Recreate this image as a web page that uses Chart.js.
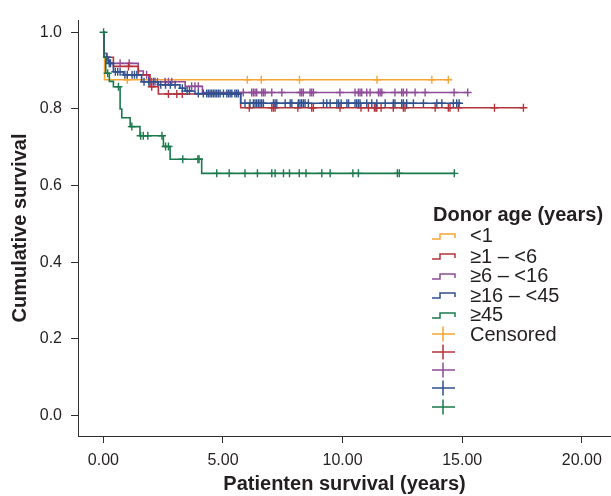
<!DOCTYPE html>
<html>
<head>
<meta charset="utf-8">
<script src="https://cdn.jsdelivr.net/npm/chart.js@4.4.0/dist/chart.umd.min.js"></script>
<style>
    html, body { margin: 0; padding: 0; background: #fff; }
    #wrap { position: relative; width: 611px; height: 496px; }
    #legend { position: absolute; left: 0; top: 0; width: 611px; height: 496px; pointer-events: none;
              font-family: 'Liberation Sans', Arial, sans-serif; color: #231f20; }
    #legend .title { position: absolute; left: 433px; font-size: 20px; font-weight: bold; line-height: 23px; white-space: nowrap; }
    #legend .txt { position: absolute; left: 470px; font-size: 20px; line-height: 23px; white-space: nowrap; }
    #legend svg { position: absolute; left: 430px; }
</style>
</head>
<body>
<div id="wrap">
    <canvas id="kmChart" width="611" height="496"></canvas>
    <div id="legend"></div>
</div>
<script>
// Axis ticks
const xTicks = [0, 5, 10, 15, 20];
const yTicks = [0, 0.2, 0.4, 0.6, 0.8, 1.0];

// Donor age groups
const groupLabels = ['<1', '≥1 – <6', '≥6 – <16', '≥16 – <45', '≥45'];

// <1 year: step times (years) and survival from that time on
const ageLt1Time = [0, 0.02, 0.05, 14.45];
const ageLt1Surv = [1.0, 0.938, 0.876, 0.876];
const ageLt1Censored = [1.0, 6.02, 6.6, 8.2, 11.44, 13.73, 14.42];

// >=1 - <6
const age1to6Time = [0, 0.03, 0.42, 1.46, 1.95, 2.3, 5.74, 17.56];
const age1to6Surv = [1.0, 0.935, 0.911, 0.889, 0.858, 0.839, 0.803, 0.803];
const age1to6Censored = [1.05, 2.02, 2.72, 3.07, 3.30, 6.10, 7.04, 7.11, 7.18, 8.13, 8.71, 8.78, 9.89,
    10.77, 11.08, 11.33, 11.39, 11.43, 11.61, 12.12, 12.54, 12.61, 13.87, 14.42, 14.49, 14.84, 16.35, 17.56];

// >=6 - <16
const age6to16Time = [0, 0.02, 0.14, 1.46, 1.67, 1.9, 3.42, 4.14, 15.26];
const age6to16Surv = [1.0, 0.945, 0.919, 0.899, 0.889, 0.871, 0.859, 0.843, 0.843];
const age6to16Censored = [0.70, 1.08, 1.81, 2.02, 2.16, 2.26, 2.58, 2.72, 2.86, 3.69, 3.83, 3.97,
    5.85, 6.20, 6.27, 6.34, 6.41, 6.62, 6.69, 6.76, 7.04, 7.46, 8.22, 8.29, 8.36, 8.64, 8.71, 8.78,
    9.89, 10.52, 10.66, 10.73, 10.80, 11.01, 11.15, 11.50, 11.57, 11.64, 12.19, 12.47, 12.54, 12.68,
    13.03, 13.45, 14.66, 15.23];

// >=16 - <45
const age16to45Time = [0, 0.02, 0.21, 0.42, 0.84, 1.6, 2.3, 3.2, 3.42, 3.83, 5.74, 14.95];
const age16to45Surv = [1.0, 0.935, 0.919, 0.897, 0.889, 0.871, 0.863, 0.854, 0.847, 0.840, 0.815, 0.815];
const age16to45Censored = [0.15, 0.25, 0.3, 0.5, 0.6, 0.7, 0.9, 1.0, 1.2, 1.3, 1.4, 1.7, 1.9, 2.1,
    2.4, 2.6, 2.8, 3.0, 3.3, 3.5, 3.6, 3.97, 4.18, 4.32, 4.39, 4.46, 4.53, 4.60, 4.67, 4.74, 4.81,
    4.88, 5.02, 5.16, 5.23, 5.30, 5.37, 5.50, 5.57, 5.64,
    5.92, 6.13, 6.27, 6.34, 6.41, 6.48, 6.55, 6.62, 6.69, 7.11, 7.18, 7.25, 7.60, 7.81, 7.88, 8.15,
    8.22, 8.29, 8.36, 8.43, 8.57, 9.20, 9.34, 9.48, 9.76, 9.83, 9.94, 10.18, 10.25, 10.52, 10.59,
    10.66, 10.73, 11.01, 11.22, 11.43, 11.78, 12.12, 12.19, 12.47, 12.54, 12.68, 12.96, 13.38,
    13.94, 14.15, 14.63, 14.77, 14.87];

// >=45
const age45Time = [0, 0.02, 0.1, 0.25, 0.42, 0.70, 0.77, 1.12, 1.53, 2.51, 2.79, 4.11, 14.7];
const age45Surv = [1.0, 0.935, 0.893, 0.872, 0.858, 0.80, 0.777, 0.754, 0.730, 0.702, 0.669, 0.632, 0.632];
const age45Censored = [0.01, 0.18, 0.63, 1.19, 1.56, 1.67, 1.86, 2.45, 2.6, 2.72, 3.32, 3.95, 4.0,
    4.74, 5.26, 5.92, 6.44, 7.04, 7.18, 7.53, 7.78, 8.19, 8.47, 9.13, 9.48, 10.43, 10.66, 12.29,
    12.37, 14.67];

// Styling
const groupColors = ['#f5a534', '#b5333b', '#8f4c98', '#30508f', '#1b7a4c'];
const drawOrder = [5, 3, 4, 2, 1];
const fontFamily = "'Liberation Sans', Arial, sans-serif";
const textColor = '#231f20';
const axisColor = '#2e2e2e';

const groups = [
    { time: ageLt1Time, surv: ageLt1Surv, cens: ageLt1Censored },
    { time: age1to6Time, surv: age1to6Surv, cens: age1to6Censored },
    { time: age6to16Time, surv: age6to16Surv, cens: age6to16Censored },
    { time: age16to45Time, surv: age16to45Surv, cens: age16to45Censored },
    { time: age45Time, surv: age45Surv, cens: age45Censored }
];

// survival value of a step curve at time t
function survivalAt(time, surv, t) {
    let s = surv[0];
    for (let i = 0; i < time.length; i++) {
        if (time[i] <= t) s = surv[i];
    }
    return s;
}

const datasets = [];
groups.forEach((g, i) => {
    // curve
    datasets.push({
        label: groupLabels[i],
        data: g.time.map((t, k) => ({ x: t, y: g.surv[k] })),
        stepped: true,
        showLine: true,
        borderColor: groupColors[i],
        borderWidth: 1.6,
        pointRadius: 0,
        fill: false,
        order: drawOrder[i]
    });
    // censored marks
    datasets.push({
        label: 'Censored ' + groupLabels[i],
        data: g.cens.map(t => ({ x: t, y: survivalAt(g.time, g.surv, t) })),
        showLine: false,
        pointStyle: 'cross',
        pointRadius: 4,
        borderColor: groupColors[i],
        borderWidth: 1.4,
        order: drawOrder[i]
    });
});

const tickGrid = {
    display: true,
    drawOnChartArea: false,
    drawTicks: true,
    tickLength: 7,
    tickColor: axisColor,
    lineWidth: 1
};

new Chart(document.getElementById('kmChart').getContext('2d'), {
    type: 'line',
    data: { datasets },
    options: {
        responsive: false,
        animation: false,
        events: [],
        layout: { autoPadding: false, padding: { top: 20, right: 0, left: 0, bottom: 0 } },
        plugins: { legend: { display: false }, tooltip: { enabled: false } },
        scales: {
            x: {
                type: 'linear',
                min: -1.06,
                max: 21.22,
                afterBuildTicks: s => { s.ticks = xTicks.map(v => ({ value: v })); },
                afterFit: s => { s.height = 60; },
                grid: tickGrid,
                border: { display: true, color: axisColor, width: 1 },
                ticks: {
                    color: textColor,
                    font: { family: fontFamily, size: 16 },
                    padding: 8,
                    maxRotation: 0,
                    autoSkip: false,
                    callback: v => Number(v).toFixed(2)
                },
                title: {
                    display: true,
                    text: 'Patienten survival (years)',
                    color: textColor,
                    font: { family: fontFamily, size: 20, weight: 'bold' },
                    padding: { top: 0, bottom: 0 }
                }
            },
            y: {
                type: 'linear',
                min: -0.053,
                max: 1.032,
                afterBuildTicks: s => { s.ticks = yTicks.map(v => ({ value: v })); },
                afterFit: s => { s.width = 78; },
                grid: tickGrid,
                border: { display: true, color: axisColor, width: 1 },
                ticks: {
                    color: textColor,
                    font: { family: fontFamily, size: 16 },
                    padding: 9,
                    autoSkip: false,
                    callback: v => Number(v).toFixed(1)
                },
                title: {
                    display: true,
                    text: 'Cumulative survival',
                    color: textColor,
                    font: { family: fontFamily, size: 20, weight: 'bold' },
                    padding: { top: 8, bottom: 0 }
                }
            }
        }
    }
});

// HTML legend
function buildLegend() {
    const legend = document.getElementById('legend');
    const rowCenters = [235.7, 256.2, 275.7, 295.3, 314.5, 334.0, 351.7, 370.0, 388.3, 407.3];
    let html = '<div class="title" style="top:203px">Donor age (years)</div>';
    groupLabels.forEach((lab, i) => {
        const c = rowCenters[i];
        html += `<svg width="28" height="20" style="top:${c - 10}px"><path d="M2 13 H10 V8 H25 V12" fill="none" stroke="${groupColors[i]}" stroke-width="1.5"/></svg>`;
        html += `<div class="txt" style="top:${c - 11.3}px">${lab.replace('<', '&lt;')}</div>`;
    });
    groupColors.forEach((col, i) => {
        const c = rowCenters[5 + i];
        html += `<svg width="28" height="20" style="top:${c - 10}px"><path d="M2 10 H25 M13 2.5 V17.5" fill="none" stroke="${col}" stroke-width="1.5"/></svg>`;
    });
    html += `<div class="txt" style="top:${rowCenters[5] - 11.3}px">Censored</div>`;
    legend.innerHTML = html;
}
buildLegend();
</script>
</body>
</html>
